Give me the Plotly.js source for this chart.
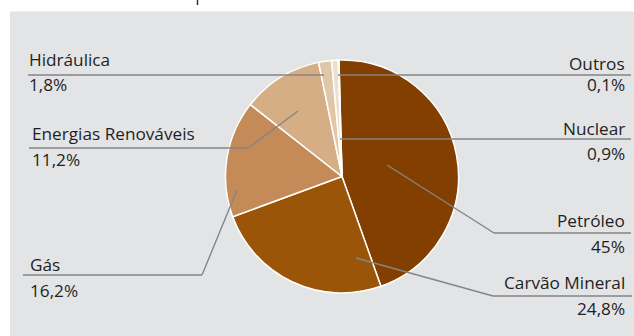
<!DOCTYPE html>
<html>
<head>
<meta charset="utf-8">
<script src="https://cdn.plot.ly/plotly-3.0.1.min.js"></script>
<style>html,body{margin:0;padding:0;background:#fff;}#chart{width:634px;height:336px;}</style>
</head>
<body>
<div id="chart"></div>
<script>
// Data
var categories = ["Petróleo", "Carvão Mineral", "Gás", "Energias Renováveis", "Hidráulica", "Nuclear", "Outros"];
var values = [45, 24.8, 16.2, 11.2, 1.8, 0.9, 0.1];
var valueLabels = ["45%", "24,8%", "16,2%", "11,2%", "1,8%", "0,9%", "0,1%"];
var colors = ["#833f00", "#9a5508", "#c48a58", "#d5ae86", "#e2c6a8", "#eedfcc", "#f6efe4"];

var W = 634, H = 336;
function px(x){ return x / W; }
function py(y){ return 1 - y / H; }

// Label layout (pixel positions on the page)
var labelLayout = {
  "Hidráulica":          {side:"left",  tx:28,  ty:66,  vy:92,  line:[[324,75],[28,75]]},
  "Energias Renováveis": {side:"left",  tx:31,  ty:140, vy:166, line:[[298,111],[248,148],[29,148]]},
  "Gás":                 {side:"left",  tx:29,  ty:271, vy:297, line:[[237,190],[202,275],[23,275]]},
  "Outros":              {side:"right", tx:626, ty:71,  vy:91,  line:[[338,75],[631,75]]},
  "Nuclear":             {side:"right", tx:626, ty:136, vy:160, line:[[340,139],[631,139]]},
  "Petróleo":            {side:"right", tx:626, ty:227, vy:253, line:[[387,165],[494,233],[631,233]]},
  "Carvão Mineral":      {side:"right", tx:626, ty:289, vy:315, line:[[356,258],[493,296],[632,296]]}
};

var FONT = "Open Sans, sans-serif";
var FS = 17.2;
var DESC = 5.5; // approx descent below baseline

var annotations = [];
var shapes = [
  {type:"rect", xref:"paper", yref:"paper", x0:px(10), x1:px(634), y0:py(336), y1:py(11.5),
   fillcolor:"#e3e4e6", line:{width:0}, layer:"below"},
  {type:"line", xref:"paper", yref:"paper", x0:px(197.5), x1:px(197.5), y0:py(0), y1:py(5),
   line:{color:"#333", width:1.5}}
];

categories.forEach(function(c, i){
  var L = labelLayout[c];
  var anchor = L.side === "left" ? "left" : "right";
  annotations.push({text:c, xref:"paper", yref:"paper", x:px(L.tx), y:py(L.ty + DESC),
    xanchor:anchor, yanchor:"bottom", showarrow:false, borderpad:0,
    font:{family:FONT, size:FS, color:"#1f1f1f"}});
  annotations.push({text:valueLabels[i], xref:"paper", yref:"paper", x:px(L.tx), y:py(L.vy + DESC),
    xanchor:anchor, yanchor:"bottom", showarrow:false, borderpad:0,
    font:{family:FONT, size:FS, color:"#1f1f1f"}});
  for (var k = 0; k < L.line.length - 1; k++) {
    shapes.push({type:"line", xref:"paper", yref:"paper",
      x0:px(L.line[k][0]), y0:py(L.line[k][1]), x1:px(L.line[k+1][0]), y1:py(L.line[k+1][1]),
      line:{color:"#858585", width:1.4}});
  }
});

var cx = 342, cy = 176.5, R = 116.5;
var trace = {
  type:"pie", labels:categories, values:values, sort:false, direction:"clockwise",
  rotation:-1.5, textinfo:"none", hoverinfo:"label+percent",
  marker:{colors:colors, line:{color:"#ffffff", width:1.5}},
  domain:{x:[px(cx - R), px(cx + R)], y:[py(cy + R), py(cy - R)]},
  showlegend:false
};

var layout = {
  width:W, height:H, margin:{l:0, r:0, t:0, b:0},
  paper_bgcolor:"#ffffff", plot_bgcolor:"#ffffff",
  showlegend:false, shapes:shapes, annotations:annotations
};

Plotly.newPlot("chart", [trace], layout, {displayModeBar:false, staticPlot:true});
</script>
</body>
</html>
